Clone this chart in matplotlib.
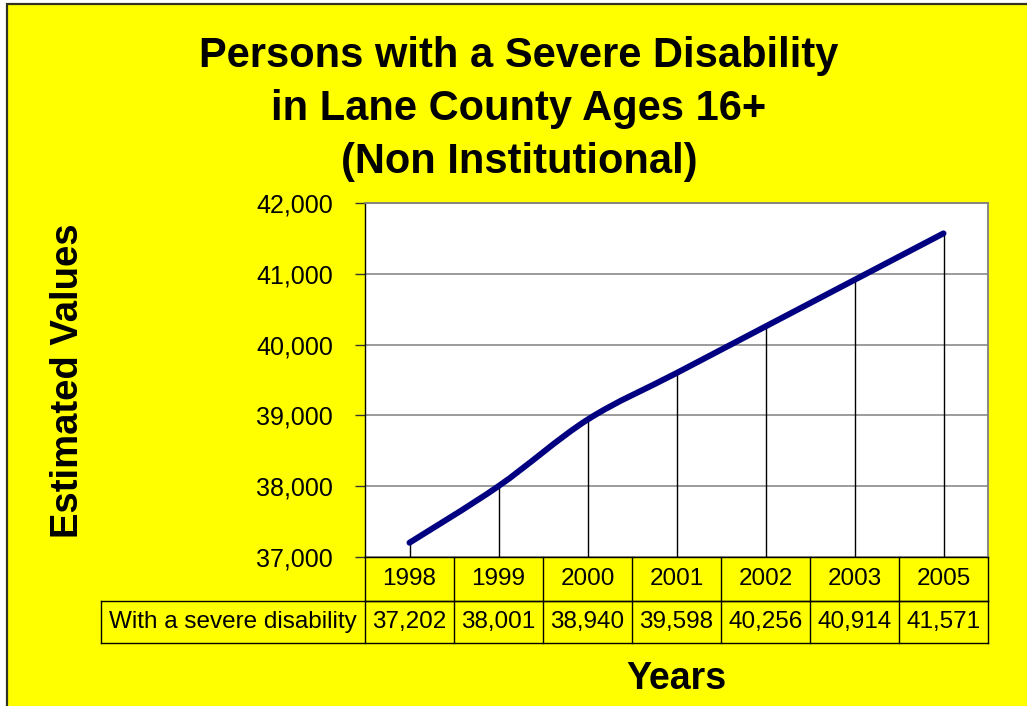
import matplotlib
matplotlib.use("Agg")
import matplotlib.pyplot as plt
from matplotlib.path import Path
from matplotlib.patches import PathPatch, Rectangle
from matplotlib.transforms import blended_transform_factory
import numpy as np

years = ["1998", "1999", "2000", "2001", "2002", "2003", "2005"]
values = [37202, 38001, 38940, 39598, 40256, 40914, 41571]
value_labels = ["37,202", "38,001", "38,940", "39,598", "40,256", "40,914", "41,571"]
series_name = "With a severe disability"
yticks = [37000, 38000, 39000, 40000, 41000, 42000]
ytick_labels = ["37,000", "38,000", "39,000", "40,000", "41,000", "42,000"]
title = "Persons with a Severe Disability\nin Lane County Ages 16+\n(Non Institutional)"

plt.rcParams['font.family'] = ['Liberation Sans', 'DejaVu Sans']

W, H = 1027, 706
fig = plt.figure(figsize=(W / 100, H / 100), dpi=100)
fig.patch.set_facecolor("white")

# yellow chart area with dark frame (top/left visible)
bg = Rectangle((6.5 / W, -0.01), 1.02, (H - 3.5) / H + 0.01, transform=fig.transFigure,
               facecolor="#FFFF00", edgecolor="#333322", linewidth=1.6, zorder=-10)
fig.patches.append(bg)

L, R, T, B = 365, 988, 203, 557
ax = fig.add_axes([L / W, 1 - B / H, (R - L) / W, (B - T) / H])
ax.set_facecolor("white")
n = len(years)
x = np.arange(n)
ax.set_xlim(-0.5, n - 0.5)
ax.set_ylim(yticks[0], yticks[-1])
ax.set_yticks(yticks)
ax.set_yticklabels(ytick_labels, fontsize=18)
ax.tick_params(axis="y", direction="out", length=7, width=1, color="#333333", pad=16)
ax.set_xticks([])
ax.yaxis.grid(True, color="#808080", linewidth=1.1)
ax.set_axisbelow(True)
for s in ["top", "right"]:
    ax.spines[s].set_color("#808080")
    ax.spines[s].set_linewidth(1.3)
ax.spines["left"].set_color("black")
ax.spines["left"].set_linewidth(1)
ax.spines["bottom"].set_color("black")
ax.spines["bottom"].set_linewidth(1)

# drop lines
ax.vlines(x, yticks[0], values, color="black", linewidth=1, zorder=2)

# smoothed line (Bezier through data points)
pts = np.column_stack([x, values]).astype(float)
verts = [pts[0]]
codes = [Path.MOVETO]
for i in range(n - 1):
    p0 = pts[i - 1] if i > 0 else pts[i]
    p1 = pts[i]
    p2 = pts[i + 1]
    p3 = pts[i + 2] if i + 2 < n else pts[i + 1]
    c1 = p1 + (p2 - p0) / 6.0
    c2 = p2 - (p3 - p1) / 6.0
    verts += [c1, c2, p2]
    codes += [Path.CURVE4] * 3
path = Path(verts, codes)
ax.add_patch(PathPatch(path, facecolor="none", edgecolor="#000080", linewidth=4.3,
                       capstyle="round", joinstyle="round", zorder=3))

# data table below the axes
tr = blended_transform_factory(ax.transData, ax.transAxes)
tra = ax.transAxes
row1 = (B - 601) / (B - T)
row2 = (B - 643) / (B - T)
lab_left = (101 - L) / (R - L)
lkw = dict(color="black", linewidth=1, clip_on=False)
ax.plot([0, 1], [row1, row1], transform=tra, **lkw)
ax.plot([lab_left, 1], [row1, row1], transform=tra, **lkw)
ax.plot([lab_left, 1], [row2, row2], transform=tra, **lkw)
ax.plot([lab_left, lab_left], [row1, row2], transform=tra, **lkw)
for b in np.arange(n + 1) - 0.5:
    ax.plot([b, b], [0, row2], transform=tr, **lkw)
for i in range(n):
    ax.text(x[i], row1 / 2, years[i], transform=tr, ha="center", va="center", fontsize=17.5)
    ax.text(x[i], (row1 + row2) / 2, value_labels[i], transform=tr, ha="center",
            va="center", fontsize=17.5)
ax.text((lab_left + 0) / 2, (row1 + row2) / 2, series_name, transform=tra, ha="center",
        va="center", fontsize=17.5)

# titles
fig.text(519 / W, 1 - 109 / H, title, ha="center", va="center", fontsize=30,
         fontweight="bold", linespacing=1.43)
fig.text(68 / W, 1 - 381 / H, "Estimated Values", rotation=90, ha="center", va="center",
         fontsize=27.5, fontweight="bold")
fig.text(676 / W, 1 - 679 / H, "Years", ha="center", va="center", fontsize=27,
         fontweight="bold")

fig.savefig("out.png", dpi=100, facecolor=fig.get_facecolor())
